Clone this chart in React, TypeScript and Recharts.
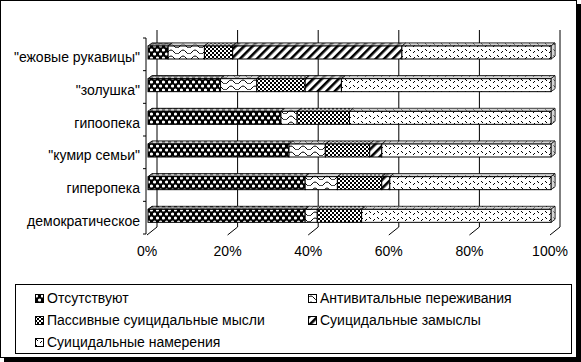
import React from 'react';
import { BarChart, Bar, XAxis, YAxis, CartesianGrid, Legend } from 'recharts';

const categories = ['"ежовые рукавицы"', '"золушка"', 'гипоопека', '"кумир семьи"', 'гиперопека', 'демократическое'];
const seriesNames = [
  'Отсутствуют',
  'Антивитальные переживания',
  'Пассивные суицидальные мысли',
  'Суицидальные замыслы',
  'Суицидальные намерения',
];
const absent = [5, 18, 33, 35, 39, 39];
const antivital = [9, 9, 4, 9, 8, 3];
const passive = [7, 12, 13, 11, 11, 11];
const plans = [42, 9, 0, 3, 2, 0];
const intent = [37, 52, 50, 42, 40, 47];
const percentTicks = [0, 20, 40, 60, 80, 100];

const KEYS = ['absent', 'antivital', 'passive', 'plans', 'intent'];
const PATTERNS = ['p-absent', 'p-antivital', 'p-passive', 'p-plans', 'p-intent'];
const FONT = '"Liberation Sans", Arial, sans-serif';
const FONT_SIZE = 14;
const DEPTH = 4;

const data = categories.map((name, i) => ({
  name,
  absent: absent[i],
  antivital: antivital[i],
  passive: passive[i],
  plans: plans[i],
  intent: intent[i],
}));

function Patterns() {
  return (
    <svg width={0} height={0} style={{ position: 'absolute' }}>
      <defs>
        <pattern id="p-absent" width={6} height={8} patternUnits="userSpaceOnUse">
          <rect width={6} height={8} fill="#000" />
          <circle cx={1.5} cy={2} r={1.6} fill="#fff" />
          <circle cx={4.5} cy={6} r={1.6} fill="#fff" />
        </pattern>
        <pattern id="p-antivital" width={12} height={6} patternUnits="userSpaceOnUse">
          <rect width={12} height={6} fill="#fff" />
          <path d="M0 4 Q3 0 6 4 T12 4" fill="none" stroke="#000" strokeWidth={1} />
        </pattern>
        <pattern id="p-passive" width={4} height={4} patternUnits="userSpaceOnUse">
          <rect width={4} height={4} fill="#fff" />
          <rect width={2} height={2} fill="#000" />
          <rect x={2} y={2} width={2} height={2} fill="#000" />
        </pattern>
        <pattern id="p-plans" width={6} height={6} patternUnits="userSpaceOnUse" patternTransform="rotate(45)">
          <rect width={6} height={6} fill="#fff" />
          <rect width={2.6} height={6} fill="#000" />
        </pattern>
        <pattern id="p-intent" width={8} height={6} patternUnits="userSpaceOnUse">
          <rect width={8} height={6} fill="#fff" />
          <rect x={1} y={1} width={1} height={1} fill="#000" />
          <rect x={2} y={2} width={1} height={1} fill="#000" />
          <rect x={5} y={4} width={1} height={1} fill="#000" />
          <rect x={6} y={3} width={1} height={1} fill="#000" />
        </pattern>
      </defs>
    </svg>
  );
}

function makeShape(pattern: string, last: boolean) {
  return (props: any) => {
    const { x, width, height } = props;
    const y = props.y - 2;
    if (!width || width <= 0) return <g />;
    const top = `${x},${y} ${x + DEPTH},${y - DEPTH + 1} ${x + width + DEPTH},${y - DEPTH + 1} ${x + width},${y}`;
    const side = `${x + width},${y} ${x + width + DEPTH},${y - DEPTH + 1} ${x + width + DEPTH},${y + height - DEPTH + 1} ${x + width},${y + height}`;
    return (
      <g>
        <polygon points={top} fill="#c0c0c0" stroke="#000" strokeWidth={1} />
        <polygon points={top} fill={`url(#${pattern})`} opacity={0.35} />
        {last && <polygon points={side} fill="#c0c0c0" stroke="#000" strokeWidth={1} />}
        {last && <polygon points={side} fill={`url(#${pattern})`} opacity={0.35} />}
        <rect x={x} y={y} width={width} height={height} fill={`url(#${pattern})`} stroke="#000" strokeWidth={1} />
      </g>
    );
  };
}

function CategoryTick(props: any) {
  const { x, y, payload, index } = props;
  const half = typeof payload?.offset === 'number' && payload.offset > 0 ? payload.offset : 16.33;
  return (
    <g>
      <line x1={x - 5} x2={x - 2} y1={y - half} y2={y - half} stroke="#000" />
      {index === categories.length - 1 && (
        <line x1={x - 5} x2={x - 2} y1={y + half} y2={y + half} stroke="#000" />
      )}
      <text x={x - 8} y={y + 3} textAnchor="end" dominantBaseline="central" fontSize={FONT_SIZE} fontFamily={FONT} fill="#000">
        {payload.value}
      </text>
    </g>
  );
}

function PercentTick(props: any) {
  const { x, y, payload } = props;
  return (
    <g>
      <line x1={x - 1} y1={y + 1} x2={x + 9} y2={y - 7} stroke="#000" />
      <text x={x - 1} y={y + 17} textAnchor="middle" dominantBaseline="central" fontSize={FONT_SIZE} fontFamily={FONT} fill="#000">
        {`${payload.value}%`}
      </text>
    </g>
  );
}

function LegendBox() {
  return (
    <div
      style={{
        width: 557,
        height: 70,
        boxSizing: 'border-box',
        border: '1px solid #000',
        background: '#fff',
        padding: '2px 0 0 19px',
        display: 'grid',
        gridTemplateColumns: '273px 1fr',
        gridAutoRows: '22px',
        fontFamily: FONT,
        fontSize: FONT_SIZE,
        color: '#000',
      }}
    >
      {seriesNames.map((name, i) => (
        <div key={name} style={{ display: 'flex', alignItems: 'center', whiteSpace: 'nowrap' }}>
          <svg width={9} height={9} style={{ marginRight: 3 }}>
            <rect x={0.5} y={0.5} width={8} height={8} fill={`url(#${PATTERNS[i]})`} stroke="#000" />
          </svg>
          <span>{name}</span>
        </div>
      ))}
    </div>
  );
}

export default function App() {
  return (
    <div style={{ position: 'absolute', left: 0, top: 0, width: 581, height: 362, background: '#fff' }}>
      <Patterns />
      <div
        style={{
          position: 'absolute',
          left: 0,
          top: 0,
          width: 577,
          height: 358,
          boxSizing: 'border-box',
          border: '1px solid #000',
          boxShadow: '4px 4px 0 #000',
          background: '#fff',
        }}
      />
      <div style={{ position: 'absolute', left: 0, top: 0 }}>
        <BarChart
          width={581}
          height={362}
          data={data}
          layout="vertical"
          margin={{ top: 38, right: 30, bottom: 98, left: 0 }}
          barSize={13}
        >
          <CartesianGrid
            horizontal={false}
            stroke="#000"
            y={30}
            height={197}
            verticalCoordinatesGenerator={(args: any) => {
              const sc = args?.xAxis?.scale;
              const off = args.offset;
              return percentTicks.map((v) =>
                (typeof sc === 'function' ? sc(v) : off.left + (v / 100) * off.width) + 9
              );
            }}
          />
          <XAxis
            type="number"
            domain={[0, 100]}
            ticks={percentTicks}
            interval={0}
            axisLine={false}
            tickLine={false}
            tickSize={0}
            tickMargin={0}
            height={30}
            tick={<PercentTick />}
          />
          <YAxis
            type="category"
            dataKey="name"
            width={148}
            axisLine={{ stroke: '#000', transform: 'translate(-2 0)' }}
            tickLine={false}
            tickSize={0}
            tickMargin={0}
            tick={<CategoryTick />}
            interval={0}
          />
          <Legend
            layout="horizontal"
            verticalAlign="middle"
            align="center"
            wrapperStyle={{ left: 15, top: 284, width: 557, height: 70 }}
            content={<LegendBox />}
          />
          {KEYS.map((k, i) => (
            <Bar
              key={k}
              dataKey={k}
              name={seriesNames[i]}
              stackId="a"
              fill={`url(#${PATTERNS[i]})`}
              isAnimationActive={false}
              shape={makeShape(PATTERNS[i], i === KEYS.length - 1)}
            />
          ))}
        </BarChart>
      </div>
    </div>
  );
}
